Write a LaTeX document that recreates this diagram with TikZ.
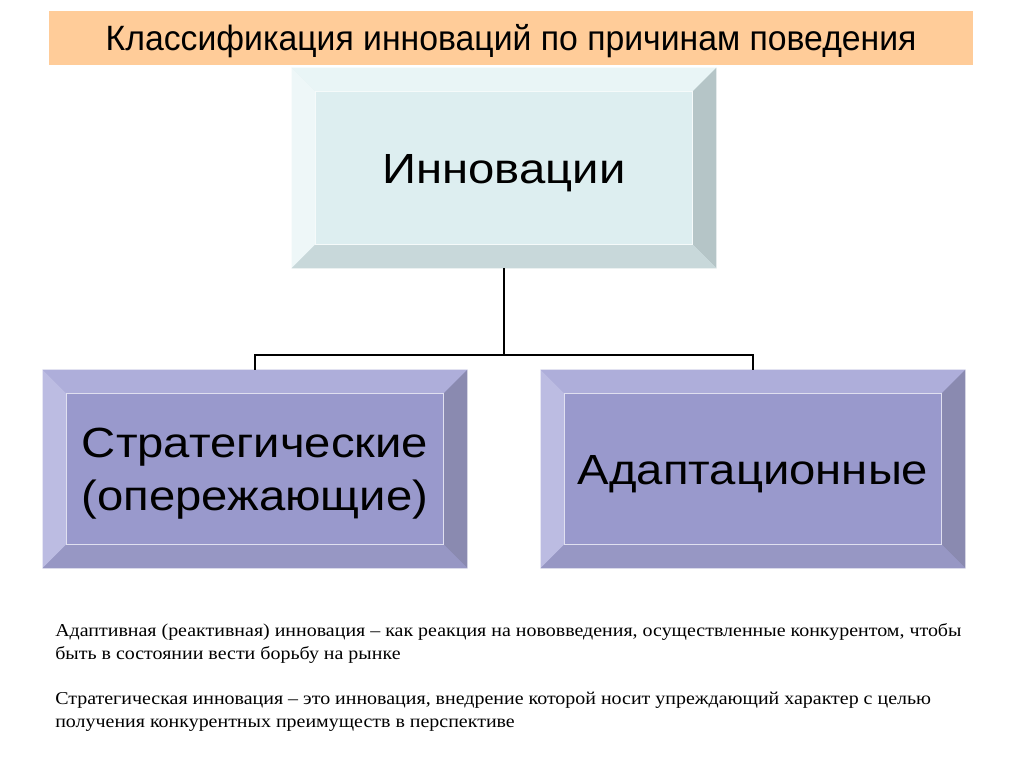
\documentclass[tikz,border=0pt]{standalone}
\usepackage{fontspec}
\setmainfont[FakeStretch=1.1]{Liberation Serif}
\newfontfamily\boxfont[FakeStretch=1.12]{Liberation Sans}
\newfontfamily\titlefont[FakeStretch=0.96]{Liberation Sans}
\usepackage{tikz}
\usetikzlibrary{positioning}
\usetikzlibrary{calc}

\definecolor{titlebg}{RGB}{255,204,153}
\definecolor{topface}{RGB}{221,238,240}
\definecolor{toptop}{RGB}{233,245,246}
\definecolor{topleft}{RGB}{238,247,248}
\definecolor{topright}{RGB}{181,197,199}
\definecolor{topbottom}{RGB}{200,216,218}
\definecolor{subface}{RGB}{153,153,204}
\definecolor{subtop}{RGB}{174,174,218}
\definecolor{subleft}{RGB}{188,188,226}
\definecolor{subright}{RGB}{138,138,176}
\definecolor{subbottom}{RGB}{151,151,196}

\tikzstyle{line} = [draw, line width=1pt]

% bevelled frame round a box: #1 node, #2 colour prefix
\newcommand\bevel[2]{%
  \fill[#2top] (#1.north west) -- (#1.north east) -- ($(#1.north east)+(-24,24)$) -- ($(#1.north west)+(24,24)$) -- cycle;
  \fill[#2left] (#1.north west) -- ($(#1.north west)+(24,24)$) -- ($(#1.south west)+(24,-24)$) -- (#1.south west) -- cycle;
  \fill[#2right] (#1.north east) -- ($(#1.north east)+(-24,24)$) -- ($(#1.south east)+(-24,-24)$) -- (#1.south east) -- cycle;
  \fill[#2bottom] (#1.south west) -- ($(#1.south west)+(24,-24)$) -- ($(#1.south east)+(-24,-24)$) -- (#1.south east) -- cycle;
  \draw[white!70!#2face, line width=0.6pt] ($(#1.north west)+(24,24)$) rectangle ($(#1.south east)+(-24,-24)$);
}

\begin{document}
\begin{tikzpicture}[x=0.025cm, y=-0.025cm,
    box/.style={minimum width=10.6cm, minimum height=4.95cm,
      inner sep=0pt, align=center, text height=21.5pt, text depth=0pt,
      font=\boxfont\fontsize{30}{38}\selectfont},
    note/.style={anchor=north west, inner sep=0pt, align=left,
      font=\fontsize{12.9}{16.4}\selectfont}]
    \useasboundingbox[fill=white] (0,0) rectangle (1024,767);
    \node [fill=titlebg, minimum width=23.1cm, minimum height=1.35cm,
      text height=17.9pt, text depth=0pt,
      font=\titlefont\fontsize{25}{30}\selectfont] (title) at (511,38)
      {Классификация инноваций по причинам поведения};
    \node [box, fill=topface, minimum height=5cm] (innov) at (504,168) {Инновации};
    \bevel{innov}{top}
    \node [box, fill=subface, text height=59.5pt] (strat) at (255,469) {Стратегические\\(опережающие)};
    \bevel{strat}{sub}
    \node [box, fill=subface] (adapt) at (753,469) {Адаптационные};
    \bevel{adapt}{sub}
    %% connectors
    \coordinate (fork) at (504,355);
    \path [line] (innov.south) -- (fork);
    \path [line] (strat.north) |- (fork) -| (adapt.north);
    %% notes
    \node [note] (adaptnote) at (55,623)
      {Адаптивная (реактивная) инновация – как реакция на нововведения, осуществленные конкурентом, чтобы\\
       быть в состоянии вести борьбу на рынке};
    \node [note] (stratnote) at (55,692)
      {Стратегическая инновация – это инновация, внедрение которой носит упреждающий характер с целью\\
       получения конкурентных преимуществ в перспективе};
  \end{tikzpicture}
\end{document}
